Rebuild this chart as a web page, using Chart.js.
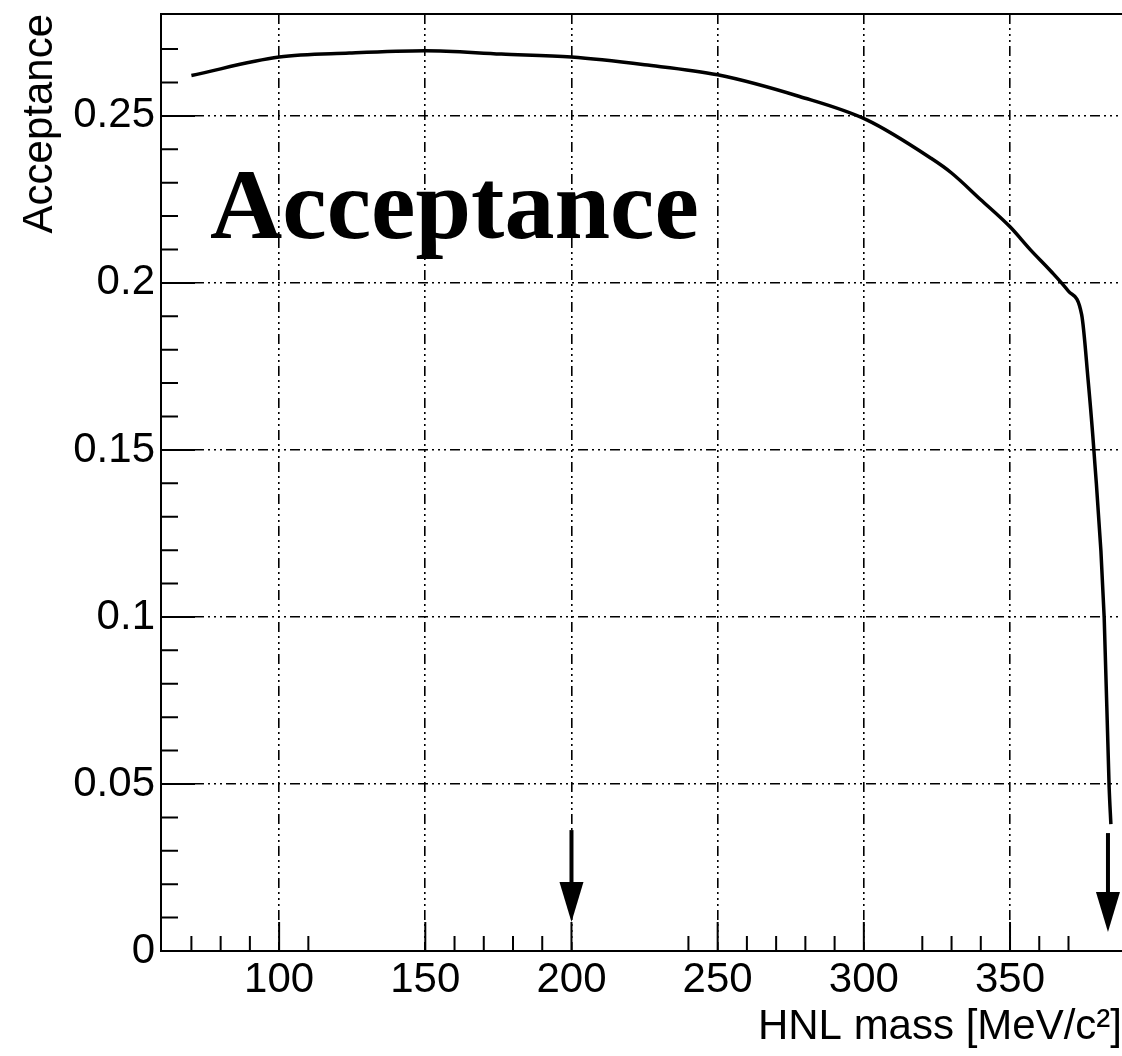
<!DOCTYPE html>
<html lang="en">
<head>
  <meta charset="UTF-8" />
  <title>HNL Acceptance</title>
  <script src="https://cdn.jsdelivr.net/npm/chart.js"></script>
  <style>
    html, body { margin: 0; padding: 0; background: #fff; overflow: hidden; }
    .wrap { width: 1122px; height: 1056px; position: relative; }
  </style>
</head>
<body>
  <div class="wrap"><canvas id="acc"></canvas></div>
  <script>
    // HNL mass [MeV/c^2] vs acceptance
    const massValues = [70, 100, 124, 150, 176, 200, 225, 250, 278, 301, 323, 330, 340, 350, 357, 364, 370, 374.5, 376.7, 378.7, 382.2, 383.9, 384.5];
    const acceptance = [0.2621, 0.2676, 0.2688, 0.2695, 0.2685, 0.2676, 0.2653, 0.2623, 0.2558, 0.2488, 0.2373, 0.2329, 0.2249, 0.2168, 0.2099, 0.2035, 0.1975, 0.1905, 0.171, 0.1497, 0.100, 0.0491, 0.038];

    const xTickLabels = [100, 150, 200, 250, 300, 350];
    const yTickLabels = [0, 0.05, 0.1, 0.15, 0.2, 0.25];
    const xMinorTicks = [70, 80, 90, 110, 160, 170, 180, 190, 240, 260, 270, 280, 290, 320, 330, 340, 360, 370];
    const yMinorTicks = [0.01, 0.02, 0.03, 0.04, 0.06, 0.07, 0.08, 0.09, 0.11, 0.12, 0.13, 0.14, 0.16, 0.17, 0.18, 0.19, 0.21, 0.22, 0.23, 0.24, 0.26, 0.27];

    // arrows marking the mass window
    const arrowMass = [200, 383.5];
    const arrowTop = [0.0362, 0.0353];
    const arrowTip = [0.0087, 0.0057];

    const gridDash = [10, 4, 2, 4, 2, 4, 2, 4];
    const sans = "'Liberation Sans', Arial, sans-serif";

    const decorations = {
      id: 'decorations',
      afterDatasetsDraw(chart) {
        const { ctx, chartArea: a, scales: { x, y } } = chart;
        ctx.save();
        ctx.strokeStyle = '#000';
        ctx.lineWidth = 2;
        // top frame
        ctx.beginPath();
        ctx.moveTo(a.left, a.top);
        ctx.lineTo(a.right, a.top);
        ctx.stroke();
        // inward ticks
        ctx.beginPath();
        xMinorTicks.forEach(v => { const px = x.getPixelForValue(v); ctx.moveTo(px, a.bottom); ctx.lineTo(px, a.bottom - 15); });
        xTickLabels.forEach(v => { const px = x.getPixelForValue(v); ctx.moveTo(px, a.bottom); ctx.lineTo(px, a.bottom - 29); });
        yMinorTicks.forEach(v => { const py = y.getPixelForValue(v); ctx.moveTo(a.left, py); ctx.lineTo(a.left + 17, py); });
        yTickLabels.forEach(v => { const py = y.getPixelForValue(v); ctx.moveTo(a.left, py); ctx.lineTo(a.left + 34, py); });
        ctx.stroke();

        // arrows
        ctx.fillStyle = '#000';
        arrowMass.forEach((m, i) => {
          const px = x.getPixelForValue(m);
          const y0 = y.getPixelForValue(arrowTop[i]);
          const y1 = y.getPixelForValue(arrowTip[i]);
          ctx.lineWidth = 4;
          ctx.beginPath();
          ctx.moveTo(px, y0);
          ctx.lineTo(px, y1 - 30);
          ctx.stroke();
          ctx.beginPath();
          ctx.moveTo(px - 12, y1 - 40);
          ctx.lineTo(px + 12, y1 - 40);
          ctx.lineTo(px, y1);
          ctx.closePath();
          ctx.fill();
        });

        // big in-plot label
        ctx.font = "bold 100px 'Liberation Serif', 'Times New Roman', serif";
        ctx.textBaseline = 'alphabetic';
        ctx.textAlign = 'left';
        ctx.fillText('Acceptance', x.getPixelForValue(76.4), y.getPixelForValue(0.2135));
        ctx.restore();
      }
    };

    new Chart(document.getElementById('acc'), {
      type: 'line',
      data: {
        datasets: [{
          data: massValues.map((m, i) => ({ x: m, y: acceptance[i] })),
          borderColor: '#000',
          borderWidth: 3.5,
          pointRadius: 0,
          cubicInterpolationMode: 'monotone',
          fill: false
        }]
      },
      options: {
        responsive: true,
        maintainAspectRatio: false,
        animation: false,
        layout: { padding: { top: 14, left: 0, right: 0, bottom: 0 } },
        plugins: { legend: { display: false }, tooltip: { enabled: false } },
        scales: {
          x: {
            type: 'linear',
            min: 59.6,
            max: 388.3,
            afterBuildTicks: s => { s.ticks = xTickLabels.map(v => ({ value: v })); },
            afterFit: s => { s.height = 105; s.paddingLeft = 0; s.paddingRight = 0; },
            ticks: {
              color: '#000',
              padding: 4,
              maxRotation: 0,
              autoSkip: false,
              font: { family: sans, size: 42 },
              callback: v => String(v)
            },
            grid: { color: '#000', lineWidth: 1.6, drawTicks: false },
            border: { display: true, color: '#000', width: 2, dash: gridDash },
            title: {
              display: true,
              text: 'HNL mass [MeV/c²]',
              align: 'end',
              color: '#000',
              font: { family: sans, size: 42 },
              padding: { top: 0, bottom: 3 }
            }
          },
          y: {
            min: 0,
            max: 0.2805,
            afterBuildTicks: s => { s.ticks = yTickLabels.map(v => ({ value: v })); },
            afterFit: s => { s.width = 161; s.paddingTop = 0; s.paddingBottom = 0; },
            ticks: {
              color: '#000',
              padding: 6,
              autoSkip: false,
              font: { family: sans, size: 42 },
              callback: v => String(v)
            },
            grid: {
              color: c => (c.tick && c.tick.value === 0 ? 'rgba(0,0,0,0)' : '#000'),
              lineWidth: 1.6,
              drawTicks: false
            },
            border: { display: true, color: '#000', width: 2, dash: gridDash },
            title: {
              display: true,
              text: 'Acceptance',
              align: 'end',
              color: '#000',
              font: { family: sans, size: 42 },
              padding: { top: 15, bottom: 0 }
            }
          }
        }
      },
      plugins: [decorations]
    });
  </script>
</body>
</html>
